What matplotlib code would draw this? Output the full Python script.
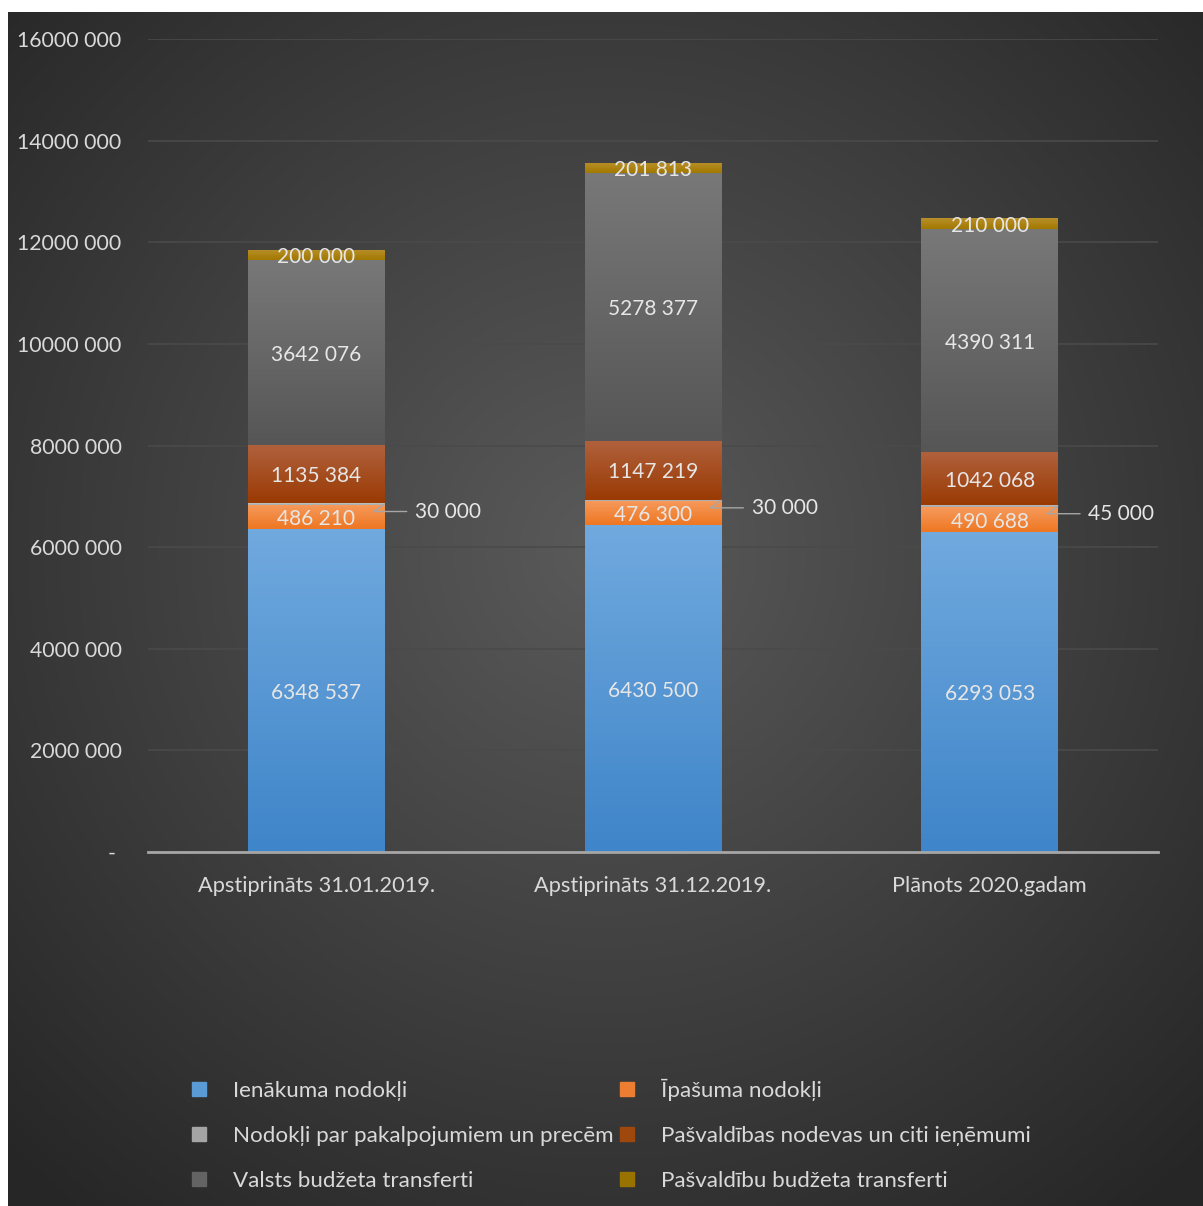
import numpy as np
import matplotlib.pyplot as plt
from matplotlib.colors import LinearSegmentedColormap
from matplotlib.lines import Line2D

plt.rcParams['font.family'] = ['Lato', 'DejaVu Sans']

# dati
categories = ['Apstiprināts 31.01.2019.', 'Apstiprināts 31.12.2019.', 'Plānots 2020.gadam']
series_names = ['Ienākuma nodokļi', 'Īpašuma nodokļi', 'Nodokļi par pakalpojumiem un precēm',
                'Pašvaldības nodevas un citi ieņēmumi', 'Valsts budžeta transferti',
                'Pašvaldību budžeta transferti']
ienakuma = [6348537, 6430500, 6293053]
ipasuma = [486210, 476300, 490688]
pakalpojumi = [30000, 30000, 45000]
nodevas = [1135384, 1147219, 1042068]
valsts = [3642076, 5278377, 4390311]
pasvaldibu = [200000, 201813, 210000]
yticks = [0, 2000000, 4000000, 6000000, 8000000, 10000000, 12000000, 14000000, 16000000]

all_series = [ienakuma, ipasuma, pakalpojumi, nodevas, valsts, pasvaldibu]
# (apakša, augša) krāsas gradientam
grad_colors = [('#3f85c9', '#70a9de'), ('#ee7722', '#f69a5c'), ('#a9a9a9', '#c0c0c0'),
               ('#9a3a04', '#b0613c'), ('#565656', '#787878'), ('#a27800', '#b8902a')]
legend_colors = ['#5b9bd5', '#ed7d31', '#a5a5a5', '#9e480e', '#636363', '#997300']

fig = plt.figure(figsize=(12.03, 12.06), dpi=100)
fig.patch.set_facecolor('white')

# fons ar radiālo gradientu
bg = fig.add_axes([8 / 1203, 0, 1 - 8 / 1203, 1 - 12 / 1206], zorder=-5)
yy, xx = np.mgrid[0:1:400j, 0:1:400j]
r = np.sqrt((xx - 0.5) ** 2 + ((yy - 0.45) * 1.0) ** 2)
val = np.clip(r / 0.72, 0, 1)
bg_cmap = LinearSegmentedColormap.from_list('bg', ['#5a5a5a', '#262626'])
bg.imshow(val, cmap=bg_cmap, aspect='auto', extent=[0, 1, 0, 1], origin='upper')
bg.axis('off')

ax = fig.add_axes([148 / 1203, 354 / 1206, (1158 - 148) / 1203, (1167 - 354) / 1206])
ax.set_facecolor('none')

x = np.arange(len(categories))
width = 0.405
bottom = np.zeros(len(categories))
containers = []
for vals, (c0, c1) in zip(all_series, grad_colors):
    bars = ax.bar(x, vals, width, bottom=bottom, color=c1, zorder=3)
    cmap = LinearSegmentedColormap.from_list('g', [c0, c1])
    for p in bars.patches:
        px, py = p.get_x(), p.get_y()
        w, h = p.get_width(), p.get_height()
        im = ax.imshow(np.linspace(0, 1, 100).reshape(-1, 1), cmap=cmap, origin='lower',
                       extent=[px, px + w, py, py + h], aspect='auto', zorder=3.5)
        im.set_clip_path(p)
    containers.append((bars, bottom.copy()))
    bottom = bottom + np.array(vals)

ax.set_xlim(-0.5, 2.5)
ax.set_ylim(0, 16000000)
ax.set_aspect('auto')

# vērtību uzraksti
lbl_color = '#e6e6e6'
for si, vals in enumerate(all_series):
    base = containers[si][1]
    for i, v in enumerate(vals):
        txt = f'{v // 1000} {v % 1000:03d}'
        ymid = base[i] + v / 2
        if si == 2:
            ax.annotate(txt, xy=(i + width / 2, ymid), xytext=(22, -4), textcoords='offset points',
                        ha='left', va='center_baseline', fontsize=15, color=lbl_color,
                        arrowprops=dict(arrowstyle='-', color='#a6a6a6', lw=1,
                                        shrinkA=4, shrinkB=0,
                                        connectionstyle='angle,angleA=0,angleB=35,rad=0'),
                        zorder=6)
        else:
            ax.text(i, ymid, txt, ha='center', va='center_baseline', fontsize=15,
                    color=lbl_color, zorder=6)

ax.set_yticks(yticks)
ax.set_yticklabels(['- ' if t == 0 else f'{t // 1000} 000' for t in yticks])
ax.set_xticks(x)
ax.set_xticklabels(categories)
ax.tick_params(axis='both', length=0, colors='#d9d9d9')
ax.tick_params(axis='y', pad=19, labelsize=15.3)
ax.tick_params(axis='x', pad=17, labelsize=15.7)
ax.grid(axis='y', color='#4a4a4a', linewidth=1.2, zorder=0)
for s in ['top', 'right', 'left']:
    ax.spines[s].set_visible(False)
ax.spines['bottom'].set_color('#a6a6a6')
ax.spines['bottom'].set_linewidth(2)
ax.spines['bottom'].set_zorder(7)

# leģenda (rindās pa divi)
handles = [Line2D([], [], marker='s', linestyle='none', markersize=9.5,
                  markerfacecolor=c, markeredgecolor=c) for c in legend_colors]
order = [0, 2, 4, 1, 3, 5]
fig.legend([handles[k] for k in order], [series_names[k] for k in order],
           loc='upper left', bbox_to_anchor=(188 / 1203, 1 - 1079 / 1206), ncol=2,
           frameon=False, fontsize=16.1, labelcolor='#d9d9d9', handlelength=1.0,
           handletextpad=1.0, columnspacing=0.13, labelspacing=1.11, borderpad=0,
           borderaxespad=0)

fig.savefig('out.png', dpi=100)
